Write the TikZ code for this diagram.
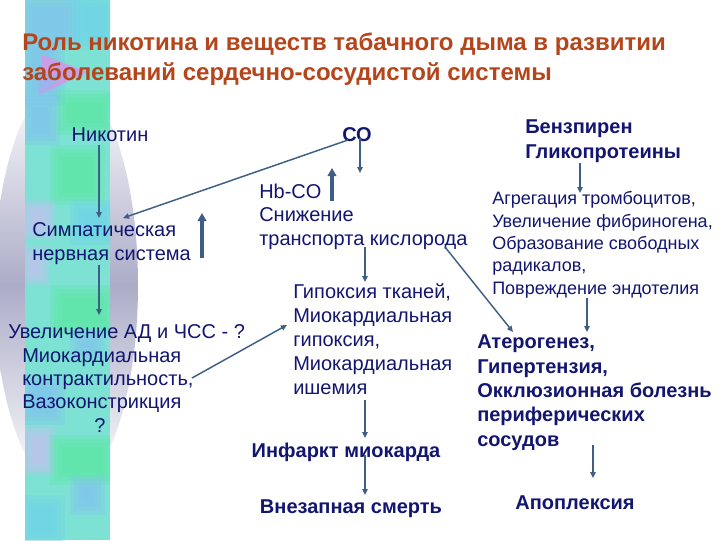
\documentclass[tikz,border=0pt]{standalone}
\usepackage{fontspec}
\setmainfont{Liberation Sans}
\usetikzlibrary{arrows.meta,calc}
\definecolor{navy}{RGB}{18,22,112}
\definecolor{rust}{RGB}{181,69,27}
\definecolor{arrc}{RGB}{62,95,133}
\definecolor{lav}{RGB}{172,172,200}
\definecolor{sbase}{RGB}{125,226,212}
\definecolor{sblue}{RGB}{130,192,240}
\definecolor{sgreen}{RGB}{90,232,160}
\definecolor{slav}{RGB}{204,190,242}
\definecolor{scyan}{RGB}{110,210,234}
\definecolor{spink}{RGB}{214,150,232}
\newcommand\sblk[5]{%
  \foreach \d in {-5,-1,3,7}{\fill[#1, opacity=.28] (#2+\d,#3+\d) rectangle (#4-\d,#5-\d);}}
\tikzset{
  txt/.style={inner sep=0pt, text=navy, align=left, font=\fontsize{15}{17.6}\selectfont},
  btxt/.style={inner sep=0pt, text=navy, align=left, font=\fontsize{15}{18.2}\selectfont\bfseries},
  arr/.style={draw=arrc, line width=1.1pt, -{Triangle[length=4.5pt,width=4pt]}},
  tharr/.style={draw=arrc, line width=2.3pt, -{Triangle[length=6pt,width=6.5pt]}}
}
\begin{document}
\begin{tikzpicture}[x=0.75pt,y=-0.75pt]
\useasboundingbox (0,0) rectangle (720,540);
\fill[white] (0,0) rectangle (720,540);
% decorative background
\begin{scope}
\clip (0,0) rectangle (720,540);
\shade[top color=white, bottom color=white, middle color=lav] (66,285) ellipse [x radius=72, y radius=205];
\fill[sbase] (25,0) rectangle (110,540);
\clip (25,0) rectangle (110,540);
\sblk{sblue}{25}{0}{75}{40}
\sblk{scyan}{75}{0}{110}{45}
\sblk{sblue}{25}{40}{60}{100}
\sblk{sgreen}{60}{95}{110}{130}
\sblk{sblue}{25}{100}{55}{140}
\sblk{sgreen}{55}{150}{100}{200}
\sblk{slav}{25}{205}{50}{235}
\sblk{scyan}{75}{205}{110}{240}
\sblk{slav}{25}{250}{45}{280}
\sblk{sgreen}{55}{290}{110}{330}
\sblk{sblue}{75}{335}{100}{355}
\sblk{sblue}{25}{380}{60}{420}
\sblk{slav}{25}{430}{50}{470}
\sblk{sgreen}{55}{440}{110}{480}
\sblk{sblue}{75}{480}{100}{510}
\sblk{scyan}{25}{500}{60}{540}
\fill[spink, opacity=.85] (42,55) -- (88,72) -- (38,95) -- cycle;
\fill[sblue, opacity=.6] (40,70) -- (62,78) -- (38,95) -- cycle;
\end{scope}
% title
\node[inner sep=0pt, anchor=base west, text=rust, align=left,
      font=\fontsize{18}{21.8}\selectfont\bfseries] (title) at (22,80)
  {Роль никотина и веществ табачного дыма в развитии\\заболеваний сердечно-сосудистой системы};
% nodes (multi-line nodes are placed by the baseline of their last line)
\node[txt, anchor=base] (nic) at (110,141) {Никотин};
\node[btxt, anchor=base] (co) at (357,141) {СО};
\node[btxt, anchor=base west] (benz) at (525,158) {Бензпирен\\Гликопротеины};
\node[txt, anchor=base west] (simp) at (32,260) {Симпатическая\\нервная система};
\node[txt, anchor=base west] (hbco) at (259,245) {Hb-CO\\Снижение\\транспорта кислорода};
\node[txt, anchor=base west, font=\fontsize{13.5}{16.7}\selectfont] (agr) at (492,294)
  {Агрегация тромбоцитов,\\Увеличение фибриногена,\\Образование свободных\\радикалов,\\Повреждение эндотелия};
\node[txt, anchor=base west] (uvel) at (8,338) {Увеличение АД и ЧСС - ?};
\node[txt, anchor=base west, font=\fontsize{15}{17.3}\selectfont] (myo) at (22,432)
  {Миокардиальная\\контрактильность,\\Вазоконстрикция\\\hspace*{54pt}?};
\node[txt, anchor=base west, font=\fontsize{15}{18}\selectfont] (hyp) at (293,394)
  {Гипоксия тканей,\\Миокардиальная\\гипоксия,\\Миокардиальная\\ишемия};
\node[btxt, anchor=base] (inf) at (346,457) {Инфаркт миокарда};
\node[btxt, anchor=base] (death) at (351,513) {Внезапная смерть};
\node[btxt, anchor=base west] (ather) at (477,446)
  {Атерогенез,\\Гипертензия,\\Окклюзионная болезнь\\периферических\\сосудов};
\node[btxt, anchor=base] (apo) at (575,509) {Апоплексия};
% connectors
\draw[arr] ($(nic.base)+(-11,4)$) -- ($(simp.base west)+(67,-42)$);
\draw[arr] ($(simp.base west)+(67,5)$) -- ($(uvel.base west)+(91,-23)$);
\draw[arr] ($(co.base)+(-9,-1)$) -- ($(simp.base west)+(91,-42)$);
\draw[arr] ($(co.base)+(3,-3)$) -- ($(hbco.base west)+(101,-72)$);
\draw[tharr] ($(hbco.base west)+(73,-44)$) -- ($(hbco.base west)+(73,-77)$);
\draw[tharr] ($(simp.base west)+(170,-2)$) -- ($(simp.base west)+(170,-47)$);
\draw[arr] ($(hbco.base west)+(106,2)$) -- ($(hyp.base west)+(72,-112)$);
\draw[arr] ($(hbco.base west)+(186,2)$) -- ($(ather.base west)+(36,-114)$);
\draw[arr] ($(myo.base west)+(170,-54)$) -- ($(hyp.base west)+(-6,-69)$);
\draw[arr] ($(hyp.base west)+(72,6)$) -- ($(inf.base)+(19,-19)$);
\draw[arr] ($(inf.base)+(19,-2)$) -- ($(death.base)+(14,-18)$);
\draw[arr] ($(benz.base west)+(55,5)$) -- ($(agr.base west)+(88,-101)$);
\draw[arr] ($(agr.base west)+(95,4)$) -- ($(ather.base west)+(110,-114)$);
\draw[arr] ($(ather.base west)+(116,-1)$) -- ($(apo.base)+(18,-31)$);
\end{tikzpicture}
\end{document}
